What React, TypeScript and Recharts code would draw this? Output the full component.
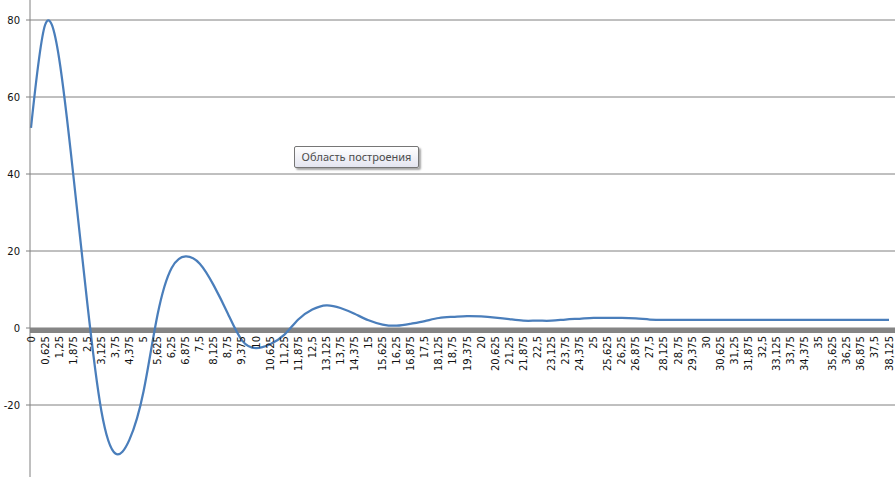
import { CartesianGrid, Line, LineChart, ReferenceLine, XAxis, YAxis } from 'recharts';

const categories = [
  '0', '0,625', '1,25', '1,875', '2,5', '3,125', '3,75', '4,375', '5', '5,625',
  '6,25', '6,875', '7,5', '8,125', '8,75', '9,375', '10', '10,625', '11,25', '11,875',
  '12,5', '13,125', '13,75', '14,375', '15', '15,625', '16,25', '16,875', '17,5', '18,125',
  '18,75', '19,375', '20', '20,625', '21,25', '21,875', '22,5', '23,125', '23,75', '24,375',
  '25', '25,625', '26,25', '26,875', '27,5', '28,125', '28,75', '29,375', '30', '30,625',
  '31,25', '31,875', '32,5', '33,125', '33,75', '34,375', '35', '35,625', '36,25', '36,875',
  '37,5', '38,125',
];

const values = [
  52, 78.7, 70, 40, 6.5, -21.5, -32.6, -29, -16.5, 3.5,
  15.6, 18.6, 16.7, 11.0, 3.7, -3.2, -5.2, -4.2, -1.8, 2.2,
  4.8, 5.9, 5.2, 3.7, 2.0, 0.9, 0.6, 1.1, 1.8, 2.6,
  2.9, 3.1, 3.0, 2.7, 2.3, 1.9, 1.9, 1.9, 2.2, 2.4,
  2.6, 2.6, 2.6, 2.5, 2.2, 2.1, 2.1, 2.1, 2.1, 2.1,
  2.1, 2.1, 2.1, 2.1, 2.1, 2.1, 2.1, 2.1, 2.1, 2.1,
  2.1, 2.1,
];

const yTicks = [-20, 0, 20, 40, 60, 80];

const Y_MIN = -40;
const Y_MAX = 100;
const PLOT_H = 539;
const X_AXIS_H = 40;
const ZERO_Y = (PLOT_H * Y_MAX) / (Y_MAX - Y_MIN);

const data = categories.map((c, i) => ({ x: c, y: values[i] }));

const GRID = '#808080';
const FONT = '"DejaVu Sans", Verdana, sans-serif';

// labels sit under the zero line, like Excel's axis crossing at 0
function XTick(props: any) {
  const { x, payload } = props;
  const y = ZERO_Y + 8;
  return (
    <text
      x={x}
      y={y}
      transform={`rotate(-90 ${x} ${y})`}
      textAnchor="end"
      dominantBaseline="central"
      fontSize={10}
      fontFamily={FONT}
      fill="#111"
    >
      {payload.value}
    </text>
  );
}

function ZeroBar(props: any) {
  const { x1, x2, y1 } = props;
  return <line x1={x1} x2={x2} y1={y1 + 2.4} y2={y1 + 2.4} stroke="#858585" strokeWidth={5} />;
}

export default function App() {
  return (
    <div style={{ position: 'fixed', top: 0, left: 0, width: 895, height: 477, overflow: 'hidden', background: '#fff' }}>
      <div style={{ position: 'absolute', top: -57, left: 0 }}>
        <LineChart width={895} height={PLOT_H + X_AXIS_H} data={data} margin={{ top: 0, right: 0, bottom: 0, left: 0 }}>
          <CartesianGrid vertical={false} stroke={GRID} />
          <XAxis
            dataKey="x"
            height={X_AXIS_H}
            interval={0}
            axisLine={false}
            tickLine={false}
            tick={<XTick />}
            padding={{ left: 1, right: 6 }}
          />
          <YAxis
            width={30}
            domain={[Y_MIN, Y_MAX]}
            ticks={yTicks}
            allowDataOverflow
            stroke={GRID}
            tickSize={4}
            tickMargin={6}
            tick={{ fontSize: 10, fontFamily: FONT, fill: '#111' }}
          />
          <ReferenceLine y={0} shape={<ZeroBar />} />
          <Line
            type="natural"
            dataKey="y"
            stroke="#4a7ebb"
            strokeWidth={2.25}
            dot={false}
            isAnimationActive={false}
          />
        </LineChart>
      </div>
      <div
        style={{
          position: 'absolute',
          left: 294,
          top: 146,
          width: 125,
          height: 22,
          boxSizing: 'border-box',
          border: '1px solid #767676',
          borderRadius: 2,
          background: 'linear-gradient(#ffffff, #e4e5f0)',
          boxShadow: '2px 2px 2px rgba(0,0,0,0.35)',
          fontFamily: '"Noto Sans", sans-serif',
          fontSize: 11,
          color: '#4c4c4c',
          lineHeight: '20px',
          textAlign: 'center',
          whiteSpace: 'nowrap',
        }}
      >
        Область построения
      </div>
    </div>
  );
}
